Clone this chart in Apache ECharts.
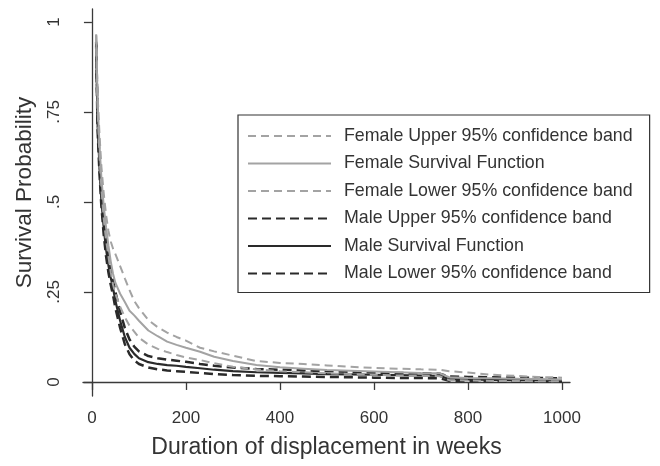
<!DOCTYPE html>
<html>
<head>
<meta charset="utf-8">
<script src="https://cdn.jsdelivr.net/npm/echarts@6/dist/echarts.min.js"></script>
<style>
  html, body { margin: 0; padding: 0; background: #fff; }
  #chart { width: 660px; height: 466px; }
</style>
</head>
<body>
<div id="chart"></div>
<script>
// weeks at which the survival curves are read
const weeks = [9, 12, 16, 20, 25, 30, 35, 40, 45, 50, 60, 70, 80, 90, 100, 120, 140, 160, 180, 200,
  230, 260, 300, 350, 400, 450, 500, 550, 600, 650, 700, 740, 760, 800, 850, 900, 950, 1000];

const femaleUpper = [0.966, 0.80, 0.69, 0.60, 0.525, 0.465, 0.42, 0.39, 0.37, 0.355, 0.322, 0.288, 0.255, 0.225, 0.205,
  0.172, 0.152, 0.137, 0.125, 0.115, 0.095, 0.085, 0.073, 0.058, 0.053, 0.05, 0.046, 0.042, 0.039, 0.037,
  0.035, 0.034, 0.03, 0.026, 0.02, 0.017, 0.014, 0.012];
const femaleSurv = [0.964, 0.78, 0.66, 0.57, 0.49, 0.43, 0.38, 0.335, 0.30, 0.275, 0.245, 0.222, 0.198, 0.185, 0.17,
  0.143, 0.127, 0.112, 0.103, 0.095, 0.084, 0.07, 0.058, 0.047, 0.041, 0.037, 0.033, 0.031, 0.029, 0.027,
  0.025, 0.024, 0.013, 0.011, 0.01, 0.009, 0.008, 0.007];
const femaleLower = [0.962, 0.76, 0.63, 0.54, 0.455, 0.395, 0.35, 0.305, 0.27, 0.245, 0.209, 0.18, 0.156, 0.14, 0.123,
  0.104, 0.092, 0.083, 0.075, 0.068, 0.061, 0.052, 0.042, 0.035, 0.03, 0.027, 0.024, 0.022, 0.02, 0.018,
  0.017, 0.016, 0.005, 0.004, 0.003, 0.003, 0.002, 0.002];
const maleUpper = [0.945, 0.74, 0.62, 0.53, 0.45, 0.39, 0.345, 0.31, 0.28, 0.25, 0.195, 0.15, 0.118, 0.098, 0.085,
  0.072, 0.066, 0.062, 0.059, 0.056, 0.05, 0.045, 0.04, 0.036, 0.034, 0.032, 0.03, 0.028, 0.026, 0.025,
  0.024, 0.023, 0.015, 0.014, 0.013, 0.012, 0.011, 0.01];
const maleSurv = [0.94, 0.72, 0.60, 0.51, 0.43, 0.37, 0.325, 0.29, 0.26, 0.225, 0.17, 0.125, 0.095, 0.078, 0.066,
  0.055, 0.05, 0.047, 0.045, 0.042, 0.038, 0.034, 0.03, 0.027, 0.025, 0.024, 0.022, 0.021, 0.02, 0.019,
  0.018, 0.017, 0.008, 0.007, 0.006, 0.005, 0.005, 0.004];
const maleLower = [0.935, 0.70, 0.58, 0.49, 0.41, 0.35, 0.305, 0.27, 0.24, 0.205, 0.15, 0.105, 0.077, 0.06, 0.05,
  0.04, 0.035, 0.032, 0.03, 0.028, 0.025, 0.022, 0.019, 0.017, 0.016, 0.015, 0.014, 0.013, 0.012, 0.011,
  0.011, 0.01, 0.003, 0.002, 0.002, 0.001, 0.001, 0.001];

const xTicks = [0, 200, 400, 600, 800, 1000];
const yTicks = [0, 0.25, 0.5, 0.75, 1];
const yTickLabels = ['0', '.25', '.5', '.75', '1'];

const seriesNames = [
  'Female Upper 95% confidence band',
  'Female Survival Function',
  'Female Lower 95% confidence band',
  'Male Upper 95% confidence band',
  'Male Survival Function',
  'Male Lower 95% confidence band',
];
const seriesValues = [femaleUpper, femaleSurv, femaleLower, maleUpper, maleSurv, maleLower];

const femaleColor = '#a3a3a3';
const maleColor = '#2a2a2a';
const styles = [
  { color: femaleColor, width: 2, type: [8, 5] },
  { color: femaleColor, width: 2, type: 'solid' },
  { color: femaleColor, width: 2, type: [8, 5] },
  { color: maleColor, width: 2.5, type: [9, 5] },
  { color: maleColor, width: 2.2, type: 'solid' },
  { color: maleColor, width: 2.5, type: [9, 5] },
];

const font = 'Liberation Sans, Arial, sans-serif';
const axisColor = '#3a3a3a';

const chart = echarts.init(document.getElementById('chart'));

const option = {
  backgroundColor: '#fff',
  animation: false,
  grid: { left: 83, right: 90, top: 9, bottom: 70 },
  legend: {
    orient: 'vertical',
    left: 238,
    top: 115,
    padding: [12, 17, 10, 9],
    itemWidth: 83,
    itemHeight: 14,
    itemGap: 9.5,
    borderColor: '#333',
    borderWidth: 1.2,
    backgroundColor: '#fff',
    itemStyle: { opacity: 0 },
    textStyle: { fontFamily: font, fontSize: 17.8, color: '#333', padding: [0, 0, 0, 8] },
    data: seriesNames,
  },
  xAxis: {
    type: 'value',
    min: -19,
    max: 1017,
    name: 'Duration of displacement in weeks',
    nameLocation: 'middle',
    nameGap: 40,
    nameTextStyle: { fontFamily: font, fontSize: 23, color: '#333' },
    splitLine: { show: false },
    axisLine: { lineStyle: { color: axisColor, width: 1.3 } },
    axisTick: { customValues: xTicks, length: 8, lineStyle: { color: axisColor, width: 1.3 } },
    axisLabel: {
      customValues: xTicks,
      margin: 14,
      fontFamily: font,
      fontSize: 17,
      color: '#333',
      formatter: v => String(v),
    },
  },
  yAxis: {
    type: 'value',
    min: -0.039,
    max: 1.036,
    name: 'Survival Probability',
    nameLocation: 'middle',
    nameGap: 47,
    nameTextStyle: { fontFamily: font, fontSize: 22.5, color: '#333', padding: [0, 0, 0, 20] },
    splitLine: { show: false },
    axisLine: { show: true, lineStyle: { color: axisColor, width: 1.3 } },
    axisTick: { show: true, customValues: yTicks, length: 8, lineStyle: { color: axisColor, width: 1.3 } },
    axisLabel: {
      customValues: yTicks,
      rotate: 90,
      margin: 20,
      fontFamily: font,
      fontSize: 17,
      color: '#333',
      formatter: v => yTickLabels[yTicks.indexOf(v)] ?? '',
    },
  },
  series: seriesNames.map((name, i) => ({
    name,
    type: 'line',
    symbol: 'none',
    data: weeks.map((w, j) => [w, seriesValues[i][j]]),
    lineStyle: styles[i],
    itemStyle: { color: styles[i].color },
    z: i < 3 ? 3 : 2,
  })),
};

chart.setOption(option);
</script>
</body>
</html>
